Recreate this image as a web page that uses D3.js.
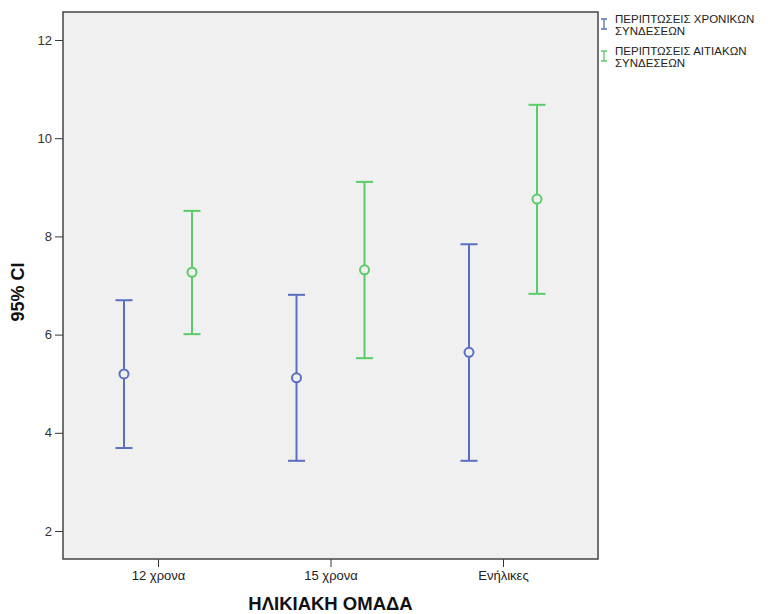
<!DOCTYPE html>
<html>
<head>
<meta charset="utf-8">
<script src="https://cdn.jsdelivr.net/npm/d3@7"></script>
<style>
  body { margin: 0; background: #fff; }
  text { font-family: "Liberation Sans", Arial, sans-serif; }
</style>
</head>
<body>
<div id="chart"></div>
<script>
// Data
const groups = ["12 χρονα", "15 χρονα", "Ενήλικες"];
const seriesNames = ["ΠΕΡΙΠΤΩΣΕΙΣ ΧΡΟΝΙΚΩΝ ΣΥΝΔΕΣΕΩΝ", "ΠΕΡΙΠΤΩΣΕΙΣ ΑΙΤΙΑΚΩΝ ΣΥΝΔΕΣΕΩΝ"];
const chronMean = [5.20, 5.12, 5.64];
const chronLow = [3.69, 3.43, 3.43];
const chronHigh = [6.70, 6.81, 7.84];
const aitiMean = [7.27, 7.32, 8.76];
const aitiLow = [6.01, 5.52, 6.83];
const aitiHigh = [8.52, 9.11, 10.68];
const yTicks = [2, 4, 6, 8, 10, 12];

const W = 768, H = 614;
const margin = {top: 12, right: 170, bottom: 55, left: 63};
const width = W - margin.left - margin.right,
      height = H - margin.top - margin.bottom;

const colour = d3.scaleOrdinal()
    .domain(seriesNames)
    .range(["#5a6fc2", "#5ccb6a"]);

let svg = d3.select("#chart")
    .append("svg")
    .attr("width", W)
    .attr("height", H);

let g = svg.append("g")
    .attr("transform", "translate(" + margin.left + "," + margin.top + ")");

// Scales
var x = d3.scalePoint()
    .domain(groups)
    .range([95, 440]);

var y = d3.scaleLinear()
    .domain([1.43, 12.57])
    .range([height, 0]);

// plot background
g.append("rect")
    .attr("width", width)
    .attr("height", height)
    .style("fill", "#f0f0f0");

// Y axis
let yAxis = g.append("g")
    .call(d3.axisLeft(y).tickValues(yTicks).tickSize(8).tickPadding(3));
yAxis.select(".domain").remove();
yAxis.selectAll("line").attr("stroke", "#333");
yAxis.selectAll("text").style("font-size", "13px").style("fill", "#333");

// X axis
let xAxis = g.append("g")
    .attr("transform", "translate(0," + height + ")")
    .call(d3.axisBottom(x).tickSize(8).tickPadding(4));
xAxis.select(".domain").remove();
xAxis.selectAll("line").attr("stroke", "#333");
xAxis.selectAll("text").style("font-size", "13px").style("fill", "#222");

// frame
g.append("rect")
    .attr("width", width)
    .attr("height", height)
    .style("fill", "none")
    .style("stroke", "#444")
    .style("stroke-width", 1.5);

// build error bar rows
const offset = 34;
let rows = [];
groups.forEach(function(k, i) {
    rows.push({group: k, s: seriesNames[0], dx: -offset, mean: chronMean[i], lo: chronLow[i], hi: chronHigh[i]});
    rows.push({group: k, s: seriesNames[1], dx: offset, mean: aitiMean[i], lo: aitiLow[i], hi: aitiHigh[i]});
});

let bars = g.append("g")
    .selectAll("g")
    .data(rows)
    .enter()
    .append("g")
    .attr("transform", (d) => "translate(" + (x(d.group) + d.dx) + ",0)")
    .style("stroke", (d) => colour(d.s))
    .style("stroke-width", 2)
    .style("fill", "none");

bars.append("line")
    .attr("y1", (d) => y(d.hi))
    .attr("y2", (d) => y(d.lo));
bars.append("line")
    .attr("x1", -8.5).attr("x2", 8.5)
    .attr("y1", (d) => y(d.hi)).attr("y2", (d) => y(d.hi));
bars.append("line")
    .attr("x1", -8.5).attr("x2", 8.5)
    .attr("y1", (d) => y(d.lo)).attr("y2", (d) => y(d.lo));
bars.append("circle")
    .attr("cy", (d) => y(d.mean))
    .attr("r", 4.5)
    .style("fill", "#f0f0f0");

// axis titles
svg.append("text")
    .attr("text-anchor", "middle")
    .attr("transform", "translate(24,292) rotate(-90)")
    .style("font-size", "18px")
    .style("font-weight", "bold")
    .style("fill", "#111")
    .text("95% CI");

svg.append("text")
    .attr("text-anchor", "middle")
    .attr("x", margin.left + x(groups[1]))
    .attr("y", 610)
    .style("font-size", "18.5px")
    .style("font-weight", "bold")
    .style("fill", "#111")
    .text("ΗΛΙΚΙΑΚΗ ΟΜΑΔΑ");

// legend
let legend = svg.append("g")
    .attr("transform", "translate(604,24)")
    .selectAll("g")
    .data(seriesNames)
    .enter()
    .append("g")
    .attr("transform", (d, i) => "translate(0," + i * 32 + ")");

legend.append("path")
    .attr("d", "M-3,-5H3M0,-5V5M-3,5H3")
    .style("stroke", (d) => colour(d))
    .style("stroke-width", 1.3)
    .style("fill", "none");

legend.each(function(d) {
    let words = d.split(" ");
    let t = d3.select(this).append("text")
        .attr("x", 11)
        .attr("y", -1)
        .style("font-size", "11.5px")
        .style("fill", "#222");
    t.append("tspan").attr("x", 11).text(words[0] + " " + words[1]);
    t.append("tspan").attr("x", 11).attr("dy", 12).text(words[2]);
});
</script>
</body>
</html>
